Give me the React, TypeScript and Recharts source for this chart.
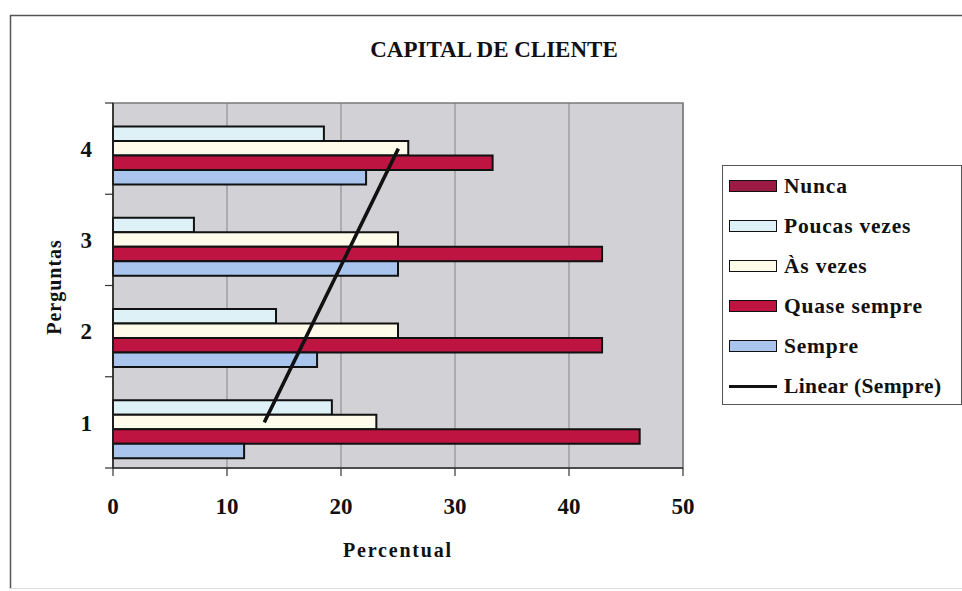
import React from 'react';
import {
  ComposedChart,
  Bar,
  Line,
  XAxis,
  YAxis,
  CartesianGrid,
  Legend,
  ReferenceArea,
  ReferenceLine,
} from 'recharts';

// Survey answers per question, in percent
const PERGUNTAS = ['1', '2', '3', '4'];
const NUNCA = [0, 0, 0, 0];
const POUCAS_VEZES = [19.2, 14.3, 7.1, 18.5];
const AS_VEZES = [23.1, 25.0, 25.0, 25.9];
const QUASE_SEMPRE = [46.2, 42.9, 42.9, 33.3];
const SEMPRE = [11.5, 17.9, 25.0, 22.2];
const X_TICKS = [0, 10, 20, 30, 40, 50];

const FONT = '"Liberation Serif", "Times New Roman", Times, serif';

// Least-squares line through the "Sempre" values (Excel's linear trendline)
function linearTrend(values: number[]): number[] {
  const n = values.length;
  const xs = values.map((_, i) => i + 1);
  const mx = xs.reduce((a, b) => a + b, 0) / n;
  const my = values.reduce((a, b) => a + b, 0) / n;
  let num = 0;
  let den = 0;
  xs.forEach((x, i) => {
    num += (x - mx) * (values[i] - my);
    den += (x - mx) * (x - mx);
  });
  const slope = num / den;
  return xs.map((x) => my + slope * (x - mx));
}

const TENDENCIA = linearTrend(SEMPRE);

const data = PERGUNTAS.map((p, i) => ({
  pergunta: p,
  nunca: NUNCA[i],
  poucas: POUCAS_VEZES[i],
  asvezes: AS_VEZES[i],
  quase: QUASE_SEMPRE[i],
  sempre: SEMPRE[i],
  tendencia: TENDENCIA[i],
}));

// Excel puts the category-axis tick marks between categories, not at their centres
const BOUNDARY_TICKS = [
  ...PERGUNTAS.map((p) => ({ y: p, position: 'start' as const })),
  { y: PERGUNTAS[0], position: 'end' as const },
];
const TICK_LEN = 0.7; // in axis units, about 8px

const SERIES = [
  { key: 'nunca', name: 'Nunca', color: '#9c1b44' },
  { key: 'poucas', name: 'Poucas vezes', color: '#def1f7' },
  { key: 'asvezes', name: 'Às vezes', color: '#fffbea' },
  { key: 'quase', name: 'Quase sempre', color: '#bd1441' },
  { key: 'sempre', name: 'Sempre', color: '#a9c5ee' },
];

const labelStyle: React.CSSProperties = {
  fontSize: 21.5,
  fontWeight: 700,
  letterSpacing: 0.8,
  color: '#111',
  whiteSpace: 'nowrap',
};

function LegendBox() {
  return (
    <div
      style={{
        width: 240,
        height: 240,
        boxSizing: 'border-box',
        border: '1.5px solid #555',
        background: '#fff',
        padding: '0 0 0 6px',
        fontFamily: FONT,
      }}
    >
      {SERIES.map((s) => (
        <div key={s.key} style={{ height: 40, display: 'flex', alignItems: 'center' }}>
          <span
            style={{
              display: 'inline-block',
              width: 48,
              height: 12,
              boxSizing: 'border-box',
              border: '1.5px solid #111',
              background: s.color,
              marginRight: 7,
            }}
          />
          <span style={labelStyle}>{s.name}</span>
        </div>
      ))}
      <div style={{ height: 40, display: 'flex', alignItems: 'center' }}>
        <span
          style={{
            display: 'inline-block',
            width: 48,
            height: 3,
            background: '#111',
            marginRight: 7,
          }}
        />
        <span style={{ ...labelStyle, letterSpacing: 0.4 }}>Linear (Sempre)</span>
      </div>
    </div>
  );
}

export default function App() {
  return (
    <div style={{ position: 'absolute', left: 0, top: 0, width: 962, height: 591, background: '#fff' }}>
      <svg
        width={962}
        height={591}
        style={{ position: 'absolute', left: 0, top: 0 }}
        fontFamily={FONT}
      >
        <line x1={10.5} y1={15} x2={10.5} y2={589} stroke="#555" strokeWidth={1.5} />
        <line x1={10} y1={15.5} x2={962} y2={15.5} stroke="#555" strokeWidth={1.5} />
        <line x1={10} y1={588.5} x2={962} y2={588.5} stroke="#ddd" strokeWidth={1} />
        <text x={494} y={57} textAnchor="middle" fontSize={23} fontWeight={700} fill="#111">
          CAPITAL DE CLIENTE
        </text>
        <text
          x={398}
          y={557}
          textAnchor="middle"
          fontSize={20}
          fontWeight={700}
          letterSpacing={1.8}
          fill="#111"
        >
          Percentual
        </text>
        <text
          x={0}
          y={0}
          transform="translate(61 287) rotate(-90)"
          textAnchor="middle"
          fontSize={20}
          fontWeight={700}
          letterSpacing={1}
          fill="#111"
        >
          Perguntas
        </text>
      </svg>
      <div style={{ position: 'absolute', left: 0, top: 0 }}>
        <ComposedChart
          width={962}
          height={591}
          data={data}
          layout="vertical"
          margin={{ top: 103, right: 39, bottom: 63, left: 0 }}
          barGap={0}
          barSize={14.5}
        >
          <CartesianGrid
            horizontal={false}
            vertical={true}
            fill="#d2d2d6"
            stroke="#858585"
            strokeWidth={1}
          />
          <ReferenceArea x1={0} x2={50} fill="none" stroke="#7a7a7a" strokeWidth={1.5} />
          <XAxis
            type="number"
            domain={[0, 50]}
            ticks={X_TICKS}
            height={60}
            tickSize={8}
            tickMargin={22}
            axisLine={{ stroke: '#333', strokeWidth: 1.5 }}
            tickLine={{ stroke: '#333', strokeWidth: 1.2 }}
            tick={{ fontFamily: FONT, fontSize: 23, fontWeight: 700, fill: '#111' }}
          />
          <YAxis
            type="category"
            dataKey="pergunta"
            reversed
            width={113}
            tickSize={8}
            tickMargin={13}
            tickLine={false}
            axisLine={{ stroke: '#222', strokeWidth: 1.5 }}
            tick={{ fontFamily: FONT, fontSize: 23, fontWeight: 700, fill: '#111' }}
          />
          {BOUNDARY_TICKS.map((t, i) => (
            <ReferenceLine
              key={`lim-${i}`}
              position={t.position}
              ifOverflow="visible"
              segment={[
                { x: -TICK_LEN, y: t.y },
                { x: 0, y: t.y },
              ]}
              stroke="#333"
              strokeWidth={1.2}
            />
          ))}
          <Legend
            layout="vertical"
            align="right"
            verticalAlign="top"
            wrapperStyle={{ left: 722, top: 165, width: 240 }}
            content={() => <LegendBox />}
          />
          {SERIES.map((s) => (
            <Bar
              key={s.key}
              dataKey={s.key}
              name={s.name}
              fill={s.color}
              stroke="#111"
              strokeWidth={2}
              isAnimationActive={false}
            />
          ))}
          <Line
            dataKey="tendencia"
            name="Linear (Sempre)"
            stroke="#111"
            strokeWidth={3.5}
            dot={false}
            activeDot={false}
            legendType="line"
            isAnimationActive={false}
          />
        </ComposedChart>
      </div>
    </div>
  );
}
